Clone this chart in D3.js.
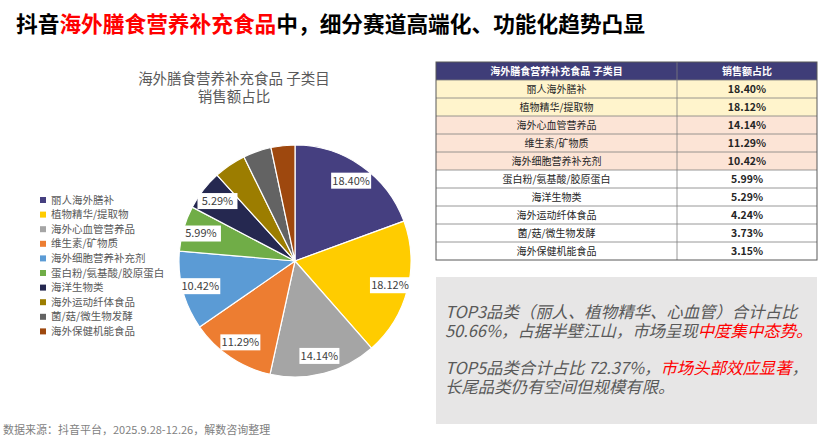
<!DOCTYPE html>
<html><head><meta charset="utf-8">
<script src="https://cdn.jsdelivr.net/npm/d3@7"></script>
<style>
html,body{margin:0;padding:0;background:#fff;}
svg{display:block;font-family:"Noto Sans CJK SC","Noto Sans",sans-serif;}
</style></head>
<body>
<svg id="c" width="831" height="438"></svg>
<script>
const categories = ["丽人海外膳补","植物精华/提取物","海外心血管营养品","维生素/矿物质","海外细胞营养补充剂","蛋白粉/氨基酸/胶原蛋白","海洋生物类","海外运动纤体食品","菌/菇/微生物发酵","海外保健机能食品"];
const shares = [18.40,18.12,14.14,11.29,10.42,5.99,5.29,4.24,3.73,3.15];
const labelledCount = 7;
const palette = ["#453F80","#FFCC00","#A5A5A5","#ED7D31","#5B9BD5","#70AD47","#252850","#9C7D00","#636363","#9E480E"];
const rowFills = ["#FFF4CC","#FFF4CC","#FCE4D6","#FCE4D6","#FCE4D6","#fff","#fff","#fff","#fff","#fff"];
const tableHeaders = ["海外膳食营养补充食品 子类目","销售额占比"];

const svg = d3.select("#c");

// Title
const title = svg.append("text").attr("x",16).attr("y",32).attr("font-size",21.7).attr("font-weight","bold").attr("fill","#000");
title.append("tspan").text("抖音");
title.append("tspan").attr("fill","#FF0000").text("海外膳食营养补充食品");
title.append("tspan").text("中，细分赛道高端化、功能化趋势凸显");

// Pie title
svg.append("text").attr("x",234).attr("y",84).attr("text-anchor","middle").attr("font-size",14.5).attr("fill","#595959").text("海外膳食营养补充食品 子类目");
svg.append("text").attr("x",234).attr("y",102).attr("text-anchor","middle").attr("font-size",14.5).attr("fill","#595959").text("销售额占比");

// Pie
const cx = 295, cy = 261, R = 116;
const pie = d3.pie().sort(null).value(d => d.v);
const data = categories.map((c,i)=>({c, v: shares[i], i}));
const arcs = pie(data);
const arc = d3.arc().innerRadius(0).outerRadius(R);
const g = svg.append("g").attr("transform",`translate(${cx},${cy})`);
g.selectAll("path").data(arcs).join("path")
  .attr("d",arc).attr("fill",d=>palette[d.index]).attr("stroke","#fff").attr("stroke-width",1.2);
const labelArc = d3.arc().innerRadius(98).outerRadius(98);
const lbl = g.selectAll("g.lbl").data(arcs.filter(d=>d.index<labelledCount)).join("g").attr("class","lbl")
  .attr("transform",d=>`translate(${labelArc.centroid(d)})`);
lbl.append("rect").attr("x",-20).attr("y",-8).attr("width",40).attr("height",16).attr("fill","#fff");
lbl.append("text").attr("text-anchor","middle").attr("dy","0.36em").attr("font-size",11).attr("fill","#404040")
  .text(d=>d3.format(".2f")(d.data.v)+"%");

// Legend
const leg = svg.append("g");
categories.forEach((c,i)=>{
  const y = 200 + i*14.6;
  leg.append("rect").attr("x",40).attr("y",y-3).attr("width",6).attr("height",6).attr("fill",palette[i]);
  leg.append("text").attr("x",51).attr("y",y).attr("dy","0.35em").attr("font-size",10.5).attr("fill","#595959").text(c);
});

// Table
const tx0 = 436, tx1 = 677, tx2 = 817, ty0 = 62, rh = 18;
const tbl = svg.append("g");
tbl.append("rect").attr("x",tx0).attr("y",ty0).attr("width",tx2-tx0).attr("height",rh).attr("fill","#3F3D78");
tbl.append("text").attr("x",(tx0+tx1)/2).attr("y",ty0+rh/2).attr("dy","0.36em").attr("text-anchor","middle").attr("font-size",10).attr("font-weight","bold").attr("fill","#fff").text(tableHeaders[0]);
tbl.append("text").attr("x",(tx1+tx2)/2).attr("y",ty0+rh/2).attr("dy","0.36em").attr("text-anchor","middle").attr("font-size",10).attr("font-weight","bold").attr("fill","#fff").text(tableHeaders[1]);
categories.forEach((c,i)=>{
  const y = ty0 + rh*(i+1);
  tbl.append("rect").attr("x",tx0).attr("y",y).attr("width",tx2-tx0).attr("height",rh).attr("fill",rowFills[i]);
  tbl.append("text").attr("x",(tx0+tx1)/2).attr("y",y+rh/2).attr("dy","0.36em").attr("text-anchor","middle").attr("font-size",10).attr("fill","#262626").text(c);
  tbl.append("text").attr("x",(tx1+tx2)/2).attr("y",y+rh/2).attr("dy","0.36em").attr("text-anchor","middle").attr("font-size",10.5).attr("font-weight","bold").attr("fill","#262626").text(d3.format(".2f")(shares[i])+"%");
});
for(let i=1;i<=categories.length;i++){
  tbl.append("line").attr("x1",tx0).attr("x2",tx2).attr("y1",ty0+rh*i).attr("y2",ty0+rh*i).attr("stroke","#7F7F7F").attr("stroke-width",0.8);
}
tbl.append("line").attr("x1",tx1).attr("x2",tx1).attr("y1",ty0).attr("y2",ty0+rh*(categories.length+1)).attr("stroke","#7F7F7F").attr("stroke-width",0.8);
tbl.append("rect").attr("x",tx0).attr("y",ty0).attr("width",tx2-tx0).attr("height",rh*(categories.length+1)).attr("fill","none").attr("stroke","#595959").attr("stroke-width",1);

// Text box
svg.append("rect").attr("x",436).attr("y",277).attr("width",381).attr("height",147).attr("fill","#E7E6E6");
const tb = svg.append("g").attr("font-size",16.4).attr("font-style","italic").attr("fill","#595959");
tb.append("text").attr("x",445).attr("y",318).text("TOP3品类（丽人、植物精华、心血管）合计占比");
const l2 = tb.append("text").attr("x",445).attr("y",337);
l2.append("tspan").text("50.66%，占据半壁江山，市场呈现");
l2.append("tspan").attr("fill","#FF0000").text("中度集中态势。");
const l3 = tb.append("text").attr("x",445).attr("y",374);
l3.append("tspan").text("TOP5品类合计占比 72.37%，");
l3.append("tspan").attr("fill","#FF0000").text("市场头部效应显著");
l3.append("tspan").text("，");
tb.append("text").attr("x",445).attr("y",393).text("长尾品类仍有空间但规模有限。");

// Footer
svg.append("text").attr("x",3).attr("y",434).attr("font-size",11).attr("fill","#7F7F7F").text("数据来源：抖音平台，2025.9.28-12.26，解数咨询整理");
</script>
</body></html>
